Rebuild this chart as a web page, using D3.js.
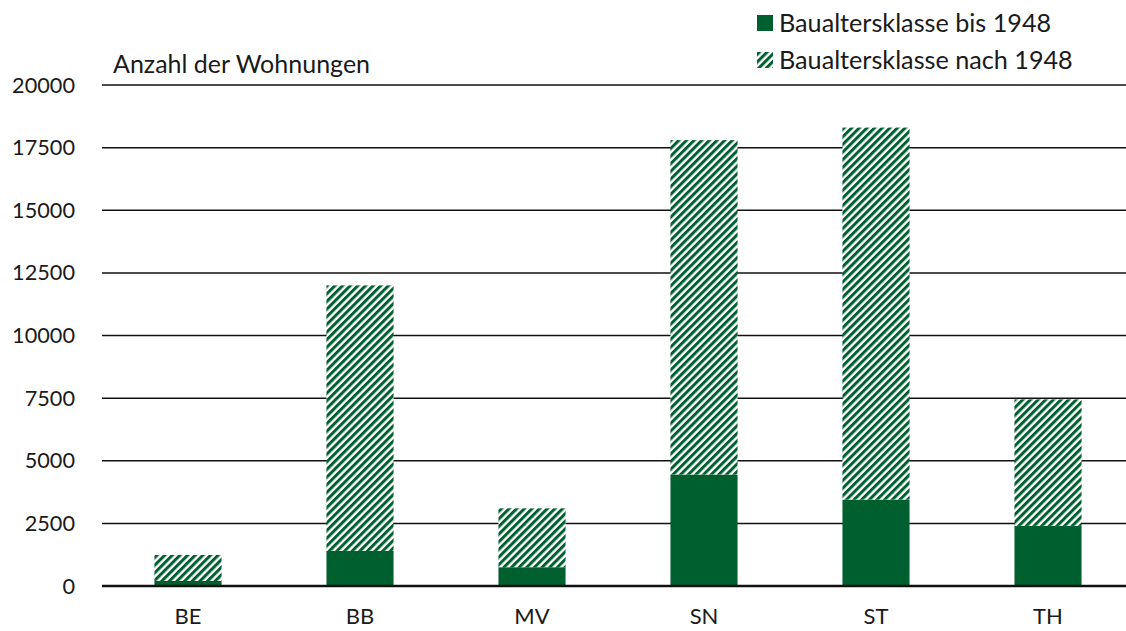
<!DOCTYPE html>
<html>
<head>
<meta charset="utf-8">
<script src="https://cdn.jsdelivr.net/npm/d3@7"></script>
<style>
  body { margin: 0; background: #fff; }
  text { font-family: Lato, "Noto Sans", sans-serif; fill: #1a1a1a; }
</style>
</head>
<body>
<svg id="chart" width="1126" height="631"></svg>
<script>
// data
var laender = ["BE", "BB", "MV", "SN", "ST", "TH"];
var bis1948 = [200, 1400, 750, 4450, 3450, 2400];
var nach1948 = [1040, 10600, 2350, 13350, 14850, 5050];
var yTicks = [0, 2500, 5000, 7500, 10000, 12500, 15000, 17500, 20000];
var seriesNames = ["Baualtersklasse bis 1948", "Baualtersklasse nach 1948"];

var green = "#005f2f";
var svg = d3.select("#chart");
var width = 1126, left = 102;

// hatch pattern for the second series
var defs = svg.append("defs");
var pat = defs.append("pattern")
  .attr("id", "hatch")
  .attr("patternUnits", "userSpaceOnUse")
  .attr("width", 5.4)
  .attr("height", 5.4)
  .attr("patternTransform", "rotate(45)");
pat.append("rect").attr("width", 5.4).attr("height", 5.4).attr("fill", "#fff");
pat.append("rect").attr("width", 3.0).attr("height", 5.4).attr("fill", green);

var x = d3.scaleBand()
  .domain(laender)
  .range([left, 1134])
  .paddingInner(0.61)
  .paddingOuter(0.305);

var y = d3.scaleLinear()
  .domain([0, 20000])
  .range([586, 85]);

// gridlines
svg.append("g")
  .selectAll("line")
  .data(yTicks)
  .join("line")
    .attr("x1", left)
    .attr("x2", width)
    .attr("y1", function(d) { return y(d); })
    .attr("y2", function(d) { return y(d); })
    .attr("stroke", "#111")
    .attr("stroke-width", 1.5);

// y tick labels
svg.append("g")
  .selectAll("text")
  .data(yTicks)
  .join("text")
    .attr("x", 75)
    .attr("y", function(d) { return y(d); })
    .attr("dy", "0.35em")
    .attr("text-anchor", "end")
    .style("font-size", "21.7px")
    .text(function(d) { return d; });

// stacked bars
var stacked = laender.map(function(l, i) {
  return { land: l, a: bis1948[i], b: nach1948[i] };
});
var stack = d3.stack().keys(["a", "b"])(stacked);
var fills = [green, "url(#hatch)"];

svg.append("g")
  .selectAll("g")
  .data(stack)
  .join("g")
    .attr("fill", function(d, i) { return fills[i]; })
  .selectAll("rect")
  .data(function(d) { return d; })
  .join("rect")
    .attr("x", function(d) { return x(d.data.land); })
    .attr("width", x.bandwidth())
    .attr("y", function(d) { return y(d[1]); })
    .attr("height", function(d) { return y(d[0]) - y(d[1]); });

// zero line on top
svg.append("line")
  .attr("x1", left).attr("x2", width)
  .attr("y1", y(0)).attr("y2", y(0))
  .attr("stroke", "#111").attr("stroke-width", 2.5);

// x labels (kept clear of the bottom edge)
svg.append("g")
  .selectAll("text")
  .data(laender)
  .join("text")
    .attr("x", function(d) { return x(d) + x.bandwidth() / 2; })
    .attr("y", 624)
    .style("font-size", "22px")
    .attr("text-anchor", "middle")
    .text(function(d) { return d; });

// axis title
svg.append("text")
  .attr("x", 113)
  .attr("y", 64)
  .attr("dy", "0.35em")
  .style("font-size", "25px")
  .text("Anzahl der Wohnungen");

// legend
var legend = svg.append("g");
seriesNames.forEach(function(name, i) {
  var ly = 23 + i * 37;
  legend.append("rect")
    .attr("x", 757).attr("y", ly - 8)
    .attr("width", 16).attr("height", 16)
    .attr("fill", fills[i]);
  legend.append("text")
    .attr("x", 779).attr("y", ly)
    .attr("dy", "0.35em")
    .style("font-size", "25.2px")
    .text(name);
});
</script>
</body>
</html>
